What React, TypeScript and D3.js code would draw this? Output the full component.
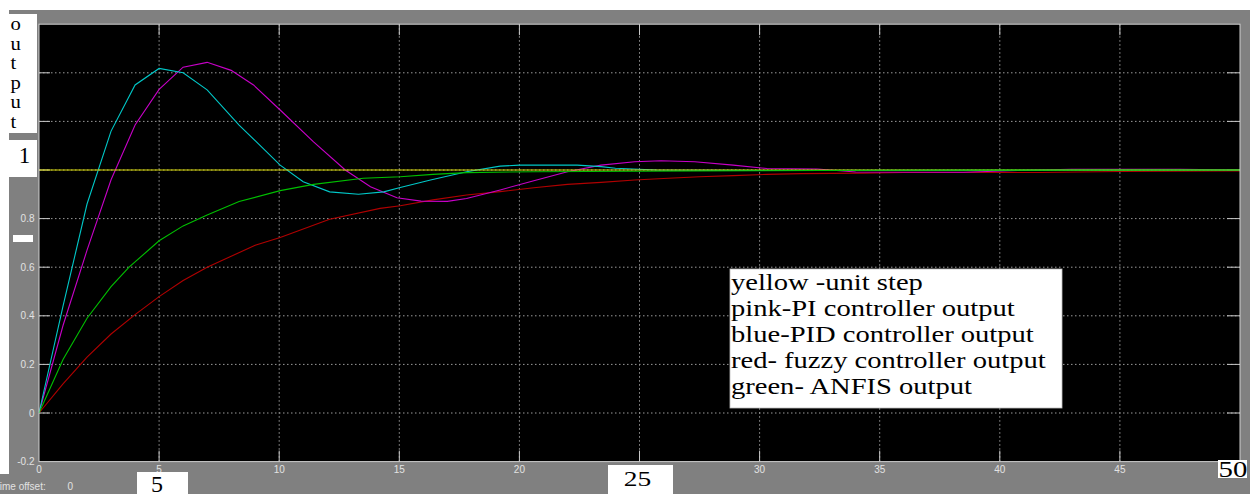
import React from "react";
import * as d3 from "d3";

// ---- data ----
const stepT = [0, 50];
const stepV = [1, 1];

const piT = [0, 1, 2, 3, 4, 5, 6, 7, 8, 8.93, 10.04, 11.43, 12.75, 13.8, 14.9, 15.9, 17.0, 17.8, 19.2, 20.6, 22.0, 23.4, 24.8, 25.9, 27.3, 28.9, 30.3, 32.4, 34, 38.5, 41, 43, 47.5, 50];
const piV = [0, 0.36, 0.67, 0.96, 1.185, 1.332, 1.423, 1.443, 1.41, 1.35, 1.247, 1.116, 1.0, 0.931, 0.886, 0.872, 0.871, 0.883, 0.918, 0.956, 0.993, 1.02, 1.034, 1.038, 1.034, 1.02, 1.006, 1.004, 0.992, 0.991, 0.999, 1.003, 1.003, 1.0];

const pidT = [0, 1, 2, 3, 4, 5, 6, 7, 8.33, 10.04, 11.0, 12.1, 13.3, 14.35, 15.04, 16.3, 17.8, 19.2, 20.0, 22.4, 23.4, 24.0, 25.7, 30, 50];
const pidV = [0, 0.44, 0.86, 1.16, 1.35, 1.418, 1.4, 1.33, 1.185, 1.02, 0.952, 0.91, 0.9, 0.91, 0.928, 0.959, 0.993, 1.016, 1.02, 1.02, 1.014, 1.007, 1.0, 0.998, 1.0];

const fuzzyT = [0, 1, 2, 3, 4, 5, 6, 7, 8, 9, 10.04, 12.1, 14.2, 15.04, 16.4, 17.8, 19.2, 20.6, 22.0, 23.4, 24.8, 26.2, 27.5, 28.9, 30.3, 31.7, 34.3, 36, 41.7, 45, 49.5, 50];
const fuzzyV = [0, 0.12, 0.23, 0.325, 0.405, 0.479, 0.545, 0.6, 0.645, 0.69, 0.722, 0.797, 0.842, 0.853, 0.877, 0.897, 0.911, 0.927, 0.941, 0.949, 0.959, 0.966, 0.972, 0.977, 0.982, 0.985, 0.987, 0.99, 0.99, 0.994, 0.996, 0.996];

const anfisT = [0, 1, 2, 3, 3.75, 5, 6, 7, 8.33, 10.04, 11.43, 13.5, 15.04, 16.4, 17.8, 20.6, 25, 30, 35, 50];
const anfisV = [0, 0.22, 0.39, 0.52, 0.6, 0.709, 0.77, 0.815, 0.87, 0.915, 0.941, 0.966, 0.972, 0.982, 0.989, 0.993, 0.995, 0.997, 0.999, 1.0];

const xTicks = [0, 5, 10, 15, 20, 25, 30, 35, 40, 45, 50];
const xTickLabels = ["0", "5", "10", "15", "20", "", "30", "35", "40", "45", ""];
const yTicks = [-0.2, 0, 0.2, 0.4, 0.6, 0.8, 1.0, 1.2, 1.4, 1.6];
const yTickLabels = ["-0.2", "0", "0.2", "0.4", "0.6", "0.8", "", "", "", ""];

const legendLines = [
  "yellow -unit step",
  "pink-PI controller output",
  "blue-PID controller output",
  "red- fuzzy controller output",
  "green- ANFIS output",
];
const yLabelLetters = ["o", "u", "t", "p", "u", "t"];

const W = 1250;
const H = 494;

export default function App() {
  const x = d3.scaleLinear().domain([0, 50]).range([39, 1240]);
  const y = d3.scaleLinear().domain([-0.2, 1.6]).range([461.6, 24.2]);
  const left = x(0), right = x(50), top = y(1.6), bottom = y(-0.2);

  const mk = (ts: number[], vs: number[]) =>
    d3.line<number>().x((_, i) => x(ts[i])).y((v) => y(v))(vs) || "";

  const series = [
    { t: fuzzyT, v: fuzzyV, c: "#b00000" },
    { t: piT, v: piV, c: "#c800c8" },
    { t: pidT, v: pidV, c: "#00c8c8" },
    { t: stepT, v: stepV, c: "#d8d800" },
    { t: anfisT, v: anfisV, c: "#00c000" },
  ];

  const tickColor = "#c8c8c8";
  const gridColor = "#9a9a9a";
  const labelFont = "'Liberation Sans', Arial, sans-serif";
  const serif = "'Liberation Serif', 'Times New Roman', serif";

  return (
    <svg
      width={W}
      height={H}
      viewBox={`0 0 ${W} ${H}`}
      style={{ position: "absolute", left: 0, top: 0, display: "block" }}
    >
      <rect x={0} y={0} width={W} height={H} fill="#808080" />
      <rect x={0} y={0} width={W} height={10} fill="#ffffff" />
      <rect x={0} y={0} width={9} height={474} fill="#ffffff" />

      {/* plot area */}
      <rect x={left} y={top} width={right - left} height={bottom - top} fill="#000000" />

      {/* grid */}
      {xTicks.slice(1, -1).map((t) => (
        <line key={"gx" + t} x1={x(t)} x2={x(t)} y1={top} y2={bottom}
          stroke={gridColor} strokeWidth={1} strokeDasharray="1.5,2.5" />
      ))}
      {yTicks.slice(1, -1).map((v) => (
        <line key={"gy" + v} x1={left} x2={right} y1={y(v)} y2={y(v)}
          stroke={gridColor} strokeWidth={1} strokeDasharray="1.5,2.5" />
      ))}

      {/* inner ticks on all sides */}
      {xTicks.slice(1, -1).map((t) => (
        <g key={"tx" + t}>
          <line x1={x(t)} x2={x(t)} y1={bottom} y2={bottom - 11} stroke={tickColor} />
          <line x1={x(t)} x2={x(t)} y1={top} y2={top + 11} stroke={tickColor} />
        </g>
      ))}
      {yTicks.slice(1, -1).map((v) => (
        <g key={"ty" + v}>
          <line x1={left} x2={left + 11} y1={y(v)} y2={y(v)} stroke={tickColor} />
          <line x1={right} x2={right - 13} y1={y(v)} y2={y(v)} stroke={tickColor} />
        </g>
      ))}

      {/* series */}
      <g fill="none" strokeWidth={1.1}>
        {series.map((s, i) => (
          <path key={i} d={mk(s.t, s.v)} stroke={s.c} />
        ))}
      </g>

      {/* frame */}
      <rect x={left} y={top} width={right - left} height={bottom - top}
        fill="none" stroke="#cfcfcf" strokeWidth={1} />

      {/* tick labels */}
      <g fontFamily={labelFont} fontSize={10} fill="#e2e2e2">
        {yTicks.map((v, i) =>
          yTickLabels[i] ? (
            <text key={"ly" + v} x={34.5} y={y(v) + 3.6} textAnchor="end">{yTickLabels[i]}</text>
          ) : null
        )}
        {xTicks.map((t, i) =>
          xTickLabels[i] ? (
            <text key={"lx" + t} x={x(t)} y={473} textAnchor="middle">{xTickLabels[i]}</text>
          ) : null
        )}
        <text x={-6} y={490}>Time offset:</text>
        <text x={67.5} y={490}>0</text>
      </g>

      {/* white label boxes pasted on the picture */}
      <rect x={9} y={14} width={28} height={119} fill="#ffffff" />
      <g fontFamily={serif} fontSize={18} fill="#000">
        {yLabelLetters.map((ch, i) => (
          <text key={i} transform={`translate(10.5, ${30 + 19.6 * i}) scale(1.15,1)`}>{ch}</text>
        ))}
      </g>
      <rect x={9} y={140} width={28} height={37} fill="#ffffff" />
      <text x={24.5} y={162.7} fontFamily={serif} fontSize={23} textAnchor="middle" fill="#000">1</text>

      <rect x={13} y={235} width={20} height={7} fill="#ffffff" />

      <rect x={137} y={472} width={51} height={22} fill="#ffffff" />
      <text x={157} y={492} fontFamily={serif} fontSize={24} textAnchor="middle" fill="#000">5</text>

      <rect x={608} y={465} width={65} height={29} fill="#ffffff" />
      <text transform="translate(637.5,485.5) scale(1.25,1)" fontFamily={serif} fontSize={22} textAnchor="middle" fill="#000">25</text>

      <rect x={1218} y={460} width={29} height={18} fill="#ffffff" />
      <text transform="translate(1233,477) scale(1.2,1)" fontFamily={serif} fontSize={24} textAnchor="middle" fill="#000">50</text>

      {/* legend box */}
      <rect x={730} y={269} width={332} height={139} fill="#ffffff" stroke="#bdbdbd" strokeWidth={0.8} />
      <g fontFamily={serif} fontSize={24} fill="#000">
        {legendLines.map((s, i) => (
          <text key={i} transform={`translate(731, ${289.5 + 26 * i}) scale(1.19,1)`}>{s}</text>
        ))}
      </g>
    </svg>
  );
}
